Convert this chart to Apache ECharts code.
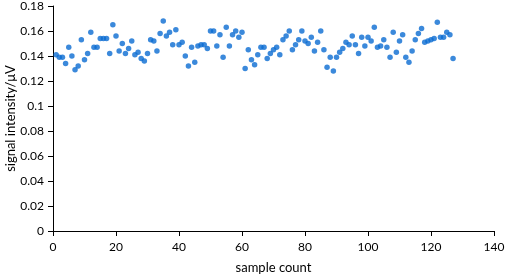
<!DOCTYPE html>
<html>
<head>
<meta charset="utf-8">
<script src="https://cdn.jsdelivr.net/npm/echarts@6/dist/echarts.min.js"></script>
<style>
  html, body { margin: 0; padding: 0; background: #fff; }
  #main { width: 505px; height: 276px; }
</style>
</head>
<body>
<div id="main"></div>
<script>
// signal intensity per sample (sample 1..127)
const sampleCounts = [];
const signalValues = [
  0.141, 0.139, 0.139, 0.134, 0.147, 0.140, 0.129, 0.132, 0.153, 0.137,
  0.142, 0.159, 0.147, 0.147, 0.154, 0.154, 0.154, 0.142, 0.165, 0.156,
  0.144, 0.150, 0.142, 0.146, 0.152, 0.141, 0.143, 0.138, 0.136, 0.142,
  0.153, 0.152, 0.144, 0.158, 0.168, 0.156, 0.159, 0.149, 0.161, 0.149,
  0.151, 0.140, 0.132, 0.147, 0.135, 0.148, 0.149, 0.149, 0.146, 0.160,
  0.160, 0.148, 0.157, 0.139, 0.163, 0.148, 0.157, 0.160, 0.155, 0.159,
  0.130, 0.145, 0.137, 0.133, 0.141, 0.147, 0.147, 0.138, 0.142, 0.145,
  0.147, 0.141, 0.153, 0.156, 0.160, 0.145, 0.149, 0.153, 0.160, 0.152,
  0.150, 0.155, 0.144, 0.151, 0.160, 0.145, 0.131, 0.139, 0.128, 0.139,
  0.143, 0.146, 0.151, 0.149, 0.156, 0.149, 0.142, 0.155, 0.148, 0.155,
  0.152, 0.163, 0.147, 0.148, 0.153, 0.147, 0.139, 0.159, 0.143, 0.152,
  0.157, 0.139, 0.135, 0.144, 0.153, 0.158, 0.162, 0.151, 0.152, 0.153,
  0.154, 0.167, 0.155, 0.155, 0.159, 0.157, 0.138
];
for (let i = 0; i < signalValues.length; i++) sampleCounts.push(i + 1);

const xTitle = 'sample count';
const yTitle = 'signal intensity/\u03bcV';

const chart = echarts.init(document.getElementById('main'));
const axisText = { color: '#000', fontFamily: 'Lato', fontSize: 12 };
const axisLine = { lineStyle: { color: '#000', width: 1 } };

chart.setOption({
  animation: false,
  backgroundColor: '#fff',
  grid: { left: 53, right: 11, top: 6, bottom: 45, containLabel: false, outerBoundsMode: 'none' },
  xAxis: {
    type: 'value', min: 0, max: 140, interval: 20,
    name: xTitle, nameLocation: 'middle', nameGap: 30, nameMoveOverlap: false,
    nameTextStyle: { color: '#000', fontFamily: 'Lato', fontSize: 13 },
    axisLine: axisLine,
    axisTick: { show: true, length: 5, lineStyle: { color: '#000' } },
    axisLabel: Object.assign({ margin: 10 }, axisText),
    splitLine: { show: false }
  },
  yAxis: {
    type: 'value', min: 0, max: 0.18, interval: 0.02,
    name: yTitle, nameLocation: 'middle', nameGap: 36, nameMoveOverlap: false,
    nameTextStyle: { color: '#000', fontFamily: 'Lato', fontSize: 13 },
    axisLine: Object.assign({ show: true }, axisLine),
    axisTick: { show: true, length: 5, lineStyle: { color: '#000' } },
    axisLabel: Object.assign({ margin: 9 }, axisText),
    splitLine: { show: false }
  },
  series: [{
    type: 'scatter',
    symbol: 'circle',
    symbolSize: 5.5,
    itemStyle: { color: '#0a6cd2' },
    data: sampleCounts.map((x, i) => [x, signalValues[i]])
  }]
});
</script>
</body>
</html>
